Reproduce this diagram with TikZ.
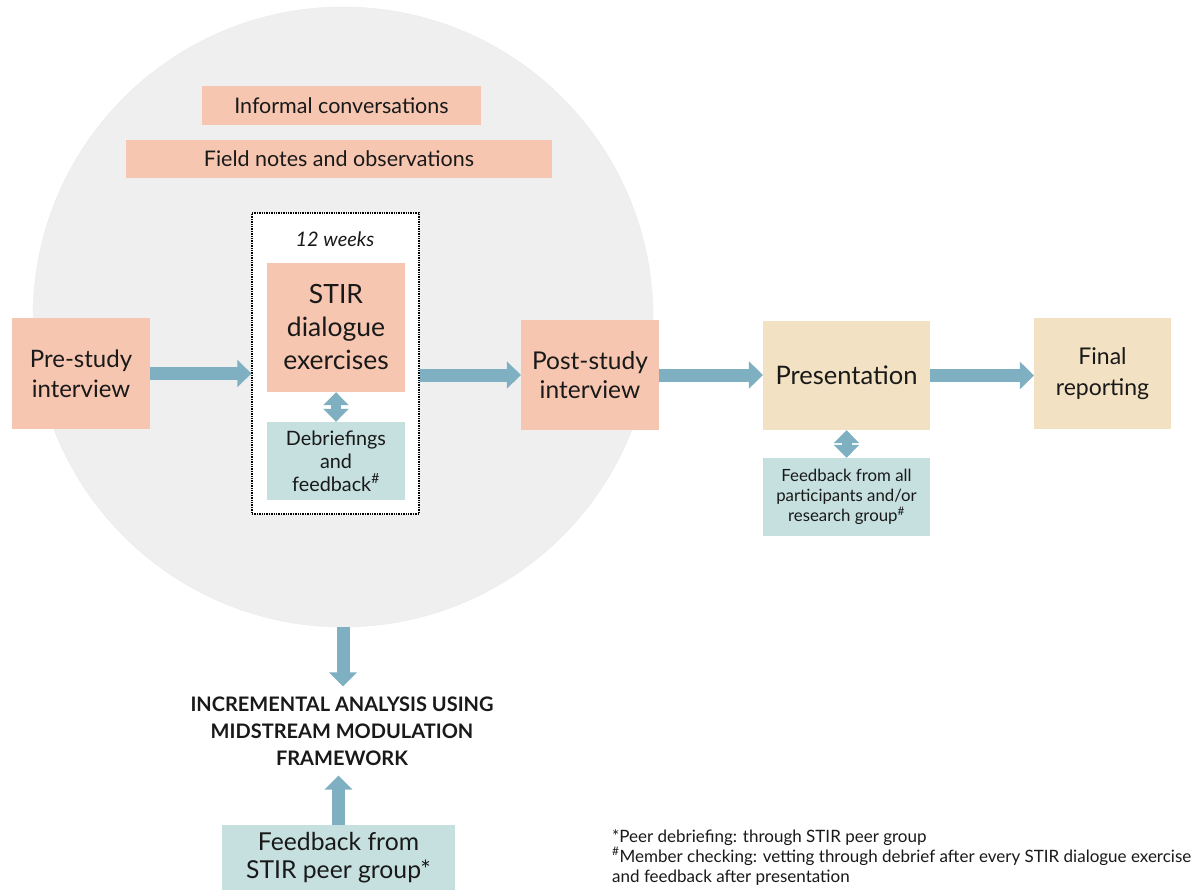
\documentclass[tikz,border=0pt]{standalone}
\usepackage{fontspec}
\setmainfont{Lato}
\usetikzlibrary{arrows.meta,calc}
\definecolor{salmon}{HTML}{F6C6B1}
\definecolor{tealbox}{HTML}{C5E0DF}
\definecolor{tan}{HTML}{F2E1C2}
\definecolor{arrowc}{HTML}{7EB0C2}
\definecolor{circfill}{HTML}{EFEFEF}
\tikzset{
  box/.style={inner sep=0pt, align=center, text=black!90},
  sbox/.style={box, fill=salmon},
  tbox/.style={box, fill=tealbox},
  nbox/.style={box, fill=tan},
  fat/.style={draw=arrowc, line width=13pt, -{Triangle[width=27pt,length=14pt]}},
  dbl/.style={draw=arrowc, line width=10pt, {Triangle[width=25pt,length=13pt]}-{Triangle[width=25pt,length=13pt]}},
}
\begin{document}
\begin{tikzpicture}[x=1pt,y=-1pt]
\useasboundingbox[fill=white] (0,0) rectangle (1198,890);
\node[circle, fill=circfill, draw=black!8, minimum size=620pt, inner sep=0pt] (circ) at (343,317) {};
\node[sbox, minimum width=279pt, minimum height=39pt, font=\fontsize{21.5}{24}\selectfont] (info) at (341.5,105.5) {Informal conversations};
\node[sbox, minimum width=426pt, minimum height=38pt, font=\fontsize{21.5}{24}\selectfont] (field) at (339,159) {Field notes and observations};
\node[draw=black, fill=white, densely dotted, line width=1.4pt, minimum width=167pt, minimum height=301pt, inner sep=0pt] (dotted) at (335.5,363.5) {};
\node[box, font=\fontsize{20}{22}\selectfont\itshape] (weeks) at (335,239) {12 weeks};
\node[sbox, minimum width=138pt, minimum height=129pt, font=\fontsize{26.5}{33}\selectfont] (stir) at (336,327.5) {STIR\\dialogue\\exercises};
\node[tbox, minimum width=138pt, minimum height=78pt, font=\fontsize{19.8}{23}\selectfont] (debrief) at (336,461) {Debriefings\\and\\feedback\textsuperscript{\#}};
\node[sbox, minimum width=138pt, minimum height=111pt, font=\fontsize{24}{30}\selectfont] (pre) at (81,373.5) {Pre-study\\interview};
\node[sbox, minimum width=138pt, minimum height=110pt, font=\fontsize{24.5}{29}\selectfont] (post) at (590,375) {Post-study\\interview};
\node[nbox, minimum width=167pt, minimum height=109pt, font=\fontsize{25.5}{30}\selectfont] (pres) at (846.5,375.5) {Presentation};
\node[nbox, minimum width=137pt, minimum height=111pt, font=\fontsize{23}{31}\selectfont] (final) at (1102.5,373.5) {Final\\reporting};
\node[tbox, minimum width=167pt, minimum height=78pt, font=\fontsize{16.8}{20}\selectfont] (fball) at (846.5,497) {Feedback from all\\participants and/or\\research group\textsuperscript{\#}};
\node[box, inner xsep=0pt, inner ysep=10pt, font=\fontsize{20}{27}\selectfont\bfseries] (title) at (342,731) {INCREMENTAL ANALYSIS USING\\MIDSTREAM MODULATION\\FRAMEWORK};
\node[tbox, minimum width=233pt, minimum height=65pt, font=\fontsize{24.7}{28}\selectfont] (fstir) at (338.5,857.5) {Feedback from\\STIR peer group*};
\node[box, anchor=north west, align=left, font=\fontsize{17}{20}\selectfont] (notes) at (612,829) {*Peer debriefing: through STIR peer group\\\textsuperscript{\#}Member checking: vetting through debrief after every STIR dialogue exercise\\and feedback after presentation};
\draw[fat] (pre.east) -- (pre.east -| dotted.west);
\draw[fat] (dotted.east |- post.west) -- (post.west);
\draw[fat] (post.east) -- (post.east -| pres.west);
\draw[fat] (pres.east) -- (pres.east -| final.west);
\draw[dbl] (stir.south) -- (debrief.north);
\draw[dbl] (pres.south) -- (fball.north);
\draw[fat] (circ.south) -- (circ.south |- title.north);
\draw[fat] (fstir.north) -- (fstir.north |- title.south);
\end{tikzpicture}
\end{document}
